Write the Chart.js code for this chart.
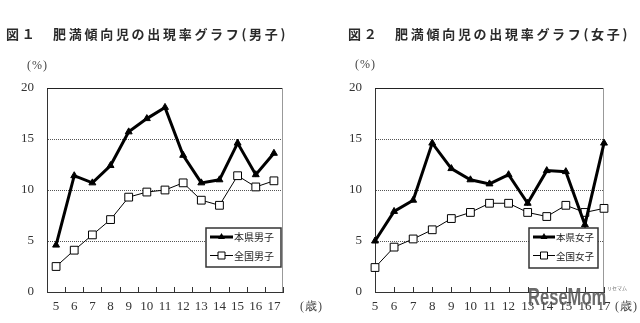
<!DOCTYPE html>
<html>
<head>
<meta charset="utf-8">
<script src="https://cdn.jsdelivr.net/npm/chart.js@4/dist/chart.umd.min.js"></script>
<style>
  body { margin: 0; background: #fff; }
  #wrap { position: relative; width: 640px; height: 323px; overflow: hidden; }
  canvas { position: absolute; top: 0; }
  .title { position: absolute; top: 24px; font: bold 13px "Noto Sans CJK JP"; letter-spacing: 2.7px; color: #2a2a2a; white-space: nowrap; }
  .unit { position: absolute; font: 12px "Liberation Serif"; color: #444; letter-spacing: 1px; white-space: nowrap; }
  .mark { position: absolute; color: rgba(80, 80, 80, 0.85); white-space: nowrap; transform-origin: 0 0; }
</style>
</head>
<body>
<div id="wrap">
  <canvas id="boysChart" width="320" height="323" style="left:0"></canvas>
  <canvas id="girlsChart" width="320" height="323" style="left:320px"></canvas>
  <div class="title" style="left:6px">図１　肥満傾向児の出現率グラフ(男子)</div>
  <div class="title" style="left:348px">図２　肥満傾向児の出現率グラフ(女子)</div>
  <div class="unit" style="left:27px; top:58px">(%)</div>
  <div class="unit" style="left:355px; top:57px">(%)</div>
  <div class="unit" style="left:300px; top:298px">(歳)</div>
  <div class="unit" style="left:615px; top:298px">(歳)</div>
  <div class="mark" style="left:528px; top:284px; font: bold 23px 'Liberation Sans', sans-serif; transform: scaleX(0.72);">ReseMom</div>
  <div class="mark" style="left:607px; top:284px; font: 5px 'Noto Sans CJK JP';">リセマム</div>
</div>
<script>
// ages (歳)
const ages = ['5', '6', '7', '8', '9', '10', '11', '12', '13', '14', '15', '16', '17'];

// 男子 (%)
const kenBoys = [4.6, 11.4, 10.7, 12.4, 15.7, 17.0, 18.1, 13.4, 10.7, 11.0, 14.6, 11.5, 13.6];
const zenBoys = [2.5, 4.1, 5.6, 7.1, 9.3, 9.8, 10.0, 10.7, 9.0, 8.5, 11.4, 10.3, 10.9];

// 女子 (%)
const kenGirls = [5.0, 7.9, 9.0, 14.6, 12.1, 11.0, 10.6, 11.5, 8.7, 11.9, 11.8, 6.6, 14.6];
const zenGirls = [2.4, 4.4, 5.2, 6.1, 7.2, 7.8, 8.7, 8.7, 7.8, 7.4, 8.5, 7.8, 8.2];

const yTicks = [0, 5, 10, 15, 20];

// frame: solid top line, grey right line, small tick marks pointing up
const framePlugin = {
  id: 'frame',
  beforeDatasetsDraw(chart, args, opts) {
    const { ctx, chartArea: a } = chart;
    const x = chart.scales.x;
    ctx.save();
    ctx.lineWidth = 1;
    ctx.strokeStyle = '#222';
    ctx.beginPath();
    ctx.moveTo(a.left, a.top + 0.5);
    ctx.lineTo(a.right, a.top + 0.5);
    ctx.stroke();
    ctx.strokeStyle = '#999';
    ctx.beginPath();
    ctx.moveTo(a.right - 0.5, a.top);
    ctx.lineTo(a.right - 0.5, a.bottom);
    ctx.stroke();
    // tick marks
    ctx.strokeStyle = '#333';
    const step = x.getPixelForTick(1) - x.getPixelForTick(0);
    ctx.beginPath();
    for (let i = 0; i < ages.length; i++) {
      let px = x.getPixelForTick(i);
      if (opts.between) px += step / 2;
      px = Math.round(px) + 0.5;
      ctx.moveTo(px, a.bottom);
      ctx.lineTo(px, a.bottom - 5);
    }
    ctx.stroke();
    ctx.restore();
  }
};

// legend box drawn inside the plot
const boxLegend = {
  id: 'boxLegend',
  afterDatasetsDraw(chart, args, opts) {
    const { ctx, chartArea: a } = chart;
    const bx = a.right - opts.right - opts.w;
    const by = a.bottom - opts.bottom - opts.h;
    ctx.save();
    ctx.fillStyle = '#fff';
    ctx.fillRect(bx, by, opts.w, opts.h);
    ctx.lineWidth = 1.5;
    ctx.strokeStyle = '#333';
    ctx.strokeRect(bx, by, opts.w, opts.h);
    chart.data.datasets.forEach((ds, i) => {
      const y = by + 9 + i * 18.5;
      const x0 = bx + 4, x1 = bx + 4 + opts.line, xm = (x0 + x1) / 2;
      ctx.lineWidth = ds.borderWidth;
      ctx.strokeStyle = '#000';
      ctx.beginPath();
      ctx.moveTo(x0, y);
      ctx.lineTo(x1, y);
      ctx.stroke();
      ctx.lineWidth = 1;
      ctx.fillStyle = ds.pointBackgroundColor;
      ctx.beginPath();
      if (ds.pointStyle === 'triangle') {
        ctx.moveTo(xm, y - 4);
        ctx.lineTo(xm + 3.5, y + 2);
        ctx.lineTo(xm - 3.5, y + 2);
        ctx.closePath();
        ctx.fill();
      } else {
        ctx.rect(xm - 3.5, y - 3.5, 7, 7);
        ctx.fill();
        ctx.stroke();
      }
      ctx.fillStyle = '#222';
      ctx.font = opts.fontSize + 'px "Noto Sans CJK JP"';
      ctx.textBaseline = 'middle';
      ctx.fillText(ds.label, x1 + 1, y + 0.5);
    });
    ctx.restore();
  }
};

function makeChart(id, labels, ken, zen, opt) {
  const ctx = document.getElementById(id).getContext('2d');
  return new Chart(ctx, {
    type: 'line',
    data: {
      labels: labels,
      datasets: [{
        label: opt.names[0],
        data: ken,
        borderColor: '#000',
        borderWidth: 3,
        pointStyle: 'triangle',
        pointRadius: 4,
        pointBackgroundColor: '#000',
        pointBorderColor: '#000',
        pointBorderWidth: 1,
        tension: 0,
        clip: false
      }, {
        label: opt.names[1],
        data: zen,
        borderColor: '#000',
        borderWidth: 1,
        pointStyle: 'rect',
        pointRadius: 5.5,
        pointBackgroundColor: '#fff',
        pointBorderColor: '#000',
        pointBorderWidth: 1,
        tension: 0,
        clip: false
      }]
    },
    options: {
      responsive: false,
      animation: false,
      events: [],
      layout: { padding: { top: 88, right: opt.right, left: 0, bottom: 0 } },
      plugins: {
        legend: { display: false },
        tooltip: { enabled: false },
        frame: { between: opt.offset },
        boxLegend: opt.legend
      },
      scales: {
        x: {
          type: 'category',
          offset: opt.offset,
          afterFit: s => { s.height = 31; },
          grid: { display: false, drawTicks: false },
          border: { display: true, color: '#333', width: 1 },
          ticks: {
            padding: 7,
            maxRotation: 0,
            autoSkip: false,
            color: '#333',
            font: { family: 'Liberation Serif', size: 13 }
          }
        },
        y: {
          min: 0,
          max: 20,
          afterFit: s => { s.width = opt.left; },
          afterBuildTicks: s => { s.ticks = yTicks.map(v => ({ value: v })); },
          grid: { color: '#555', lineWidth: 1, drawTicks: false },
          border: { display: true, color: '#333', width: 1, dash: [1, 1] },
          ticks: {
            padding: 13,
            color: '#333',
            font: { family: 'Liberation Serif', size: 13 }
          }
        }
      }
    },
    plugins: [framePlugin, boxLegend]
  });
}

makeChart('boysChart', ages, kenBoys, zenBoys, {
  names: ['本県男子', '全国男子'],
  offset: true,
  left: 47,
  right: 37,
  legend: { w: 75, h: 39, right: 2, bottom: 25, line: 23, fontSize: 10 }
});

makeChart('girlsChart', ages, kenGirls, zenGirls, {
  names: ['本県女子', '全国女子'],
  offset: false,
  left: 55,
  right: 36,
  legend: { w: 69, h: 40, right: 6, bottom: 24, line: 22, fontSize: 9.5 }
});
</script>
</body>
</html>
